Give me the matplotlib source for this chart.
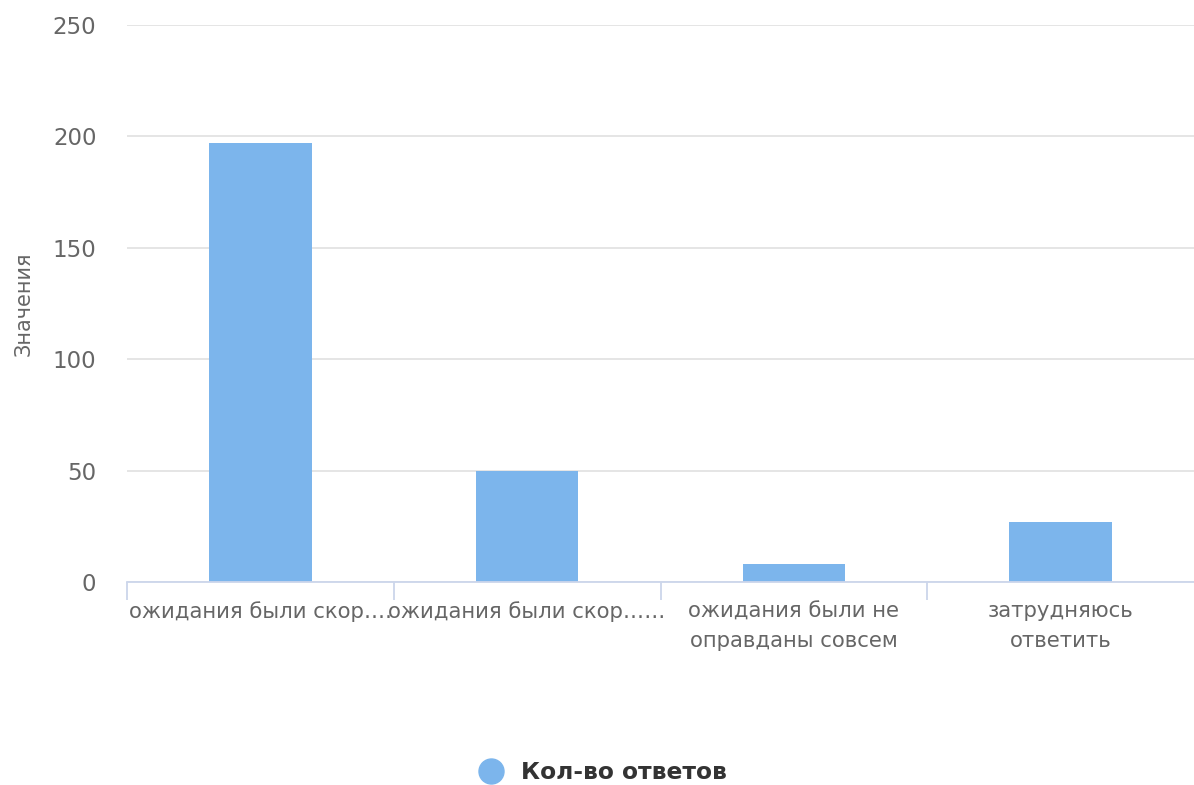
import matplotlib.pyplot as plt
from matplotlib.lines import Line2D

# data
categories = ["ожидания были скор….", "ожидания были скор……",
              "ожидания были не\nоправданы совсем", "затрудняюсь\nответить"]
answers = [197, 50, 8, 27]
y_ticks = [0, 50, 100, 150, 200, 250]
series_name = "Кол-во ответов"

bar_color = "#7cb5ec"
text_color = "#666666"

plt.rcParams['font.family'] = ['DejaVu Sans']

fig = plt.figure(figsize=(11.94, 7.85), dpi=100)
ax = fig.add_axes([127 / 1194, 1 - 582 / 785, 1 - 127 / 1194, (582 - 25) / 785])

x = list(range(len(categories)))
ax.bar(x, answers, width=0.385, color=bar_color, zorder=3)

ax.set_xlim(-0.5, len(categories) - 0.5)
ax.set_ylim(0, 250)
ax.set_yticks(y_ticks)
ax.yaxis.grid(True, color="#e3e3e3", linewidth=1.3, zorder=0)

# category labels in the middle, tick marks between categories
ax.set_xticks(x)
ax.set_xticklabels(categories, fontsize=15.3, color=text_color, linespacing=1.62)
ax.tick_params(axis="x", which="major", length=0, pad=14)
ax.set_xticks([i - 0.5 for i in range(len(categories))], minor=True)
ax.tick_params(axis="x", which="minor", length=13, color="#ccd6eb", width=1.3)

ax.tick_params(axis="y", length=0, pad=22, labelsize=16.5, labelcolor=text_color)
ax.set_ylabel("Значения", fontsize=15, color=text_color, labelpad=14)

for side in ["top", "right", "left"]:
    ax.spines[side].set_visible(False)
ax.spines["bottom"].set_color("#ccd6eb")
ax.spines["bottom"].set_linewidth(1.3)
ax.spines["bottom"].set_zorder(4)

handle = Line2D([], [], linestyle="none", marker="o", markersize=18,
                markerfacecolor=bar_color, markeredgecolor=bar_color)
leg = fig.legend([handle], [series_name], loc="lower center",
                 bbox_to_anchor=(0.5, -0.026), frameon=False,
                 prop={"size": 16.8, "weight": "bold"}, handletextpad=0.3)
for t in leg.get_texts():
    t.set_color("#333333")

fig.savefig("out.png", dpi=100)
